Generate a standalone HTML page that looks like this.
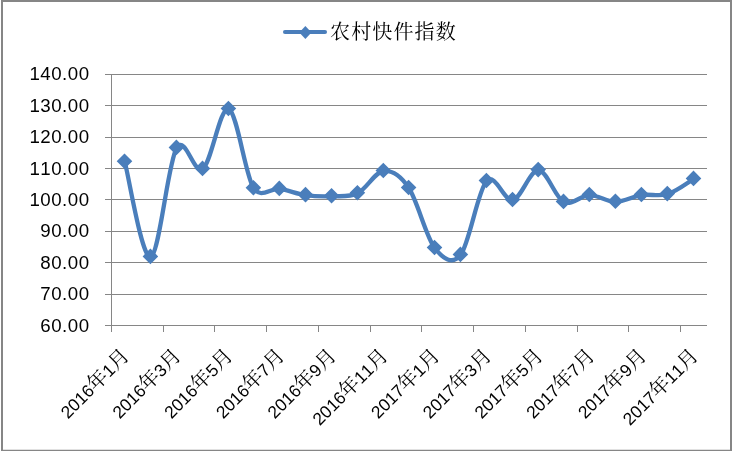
<!DOCTYPE html>
<html lang="zh-CN"><head><meta charset="utf-8"><title>农村快件指数</title>
<style>html,body{margin:0;padding:0;background:#fff}svg{display:block}.y{font-family:"Liberation Sans",sans-serif;font-size:18.7px;fill:#000;text-anchor:end;letter-spacing:0.5px;font-kerning:none}.x{font-family:"Liberation Sans","Noto Serif CJK SC",serif;font-size:17.4px;fill:#000;text-anchor:end;font-kerning:none}.x .c{font-family:"Noto Serif CJK SC",serif;font-size:20px;font-weight:400}.lg{font-family:"Liberation Serif","Noto Serif CJK SC",serif;font-size:20px;font-weight:400;fill:#000;letter-spacing:1.14px}</style></head><body>
<svg width="732" height="451" viewBox="0 0 732 451">
<rect x="0" y="0" width="732" height="451" fill="#fff"/>
<g fill="#868686"><rect x="1" y="0" width="731" height="2"/><rect x="1" y="0" width="2" height="451"/><rect x="730" y="0" width="2" height="451"/><rect x="1" y="449.75" width="731" height="1.25"/></g>
<g fill="#868686"><rect x="105" y="74" width="602" height="1"/><rect x="105" y="105" width="602" height="1"/><rect x="105" y="137" width="602" height="1"/><rect x="105" y="168" width="602" height="1"/><rect x="105" y="199" width="602" height="1"/><rect x="105" y="231" width="602" height="1"/><rect x="105" y="262" width="602" height="1"/><rect x="105" y="294" width="602" height="1"/><rect x="105" y="325" width="602" height="1"/><rect x="111" y="74" width="1" height="252"/><rect x="111" y="325" width="1" height="7"/><rect x="163" y="325" width="1" height="7"/><rect x="214" y="325" width="1" height="7"/><rect x="266" y="325" width="1" height="7"/><rect x="318" y="325" width="1" height="7"/><rect x="370" y="325" width="1" height="7"/><rect x="421" y="325" width="1" height="7"/><rect x="473" y="325" width="1" height="7"/><rect x="525" y="325" width="1" height="7"/><rect x="577" y="325" width="1" height="7"/><rect x="628" y="325" width="1" height="7"/><rect x="680" y="325" width="1" height="7"/></g>
<text class="y" x="89.6" y="80">140.00</text>
<text class="y" x="89.6" y="112">130.00</text>
<text class="y" x="89.6" y="143">120.00</text>
<text class="y" x="89.6" y="175">110.00</text>
<text class="y" x="89.6" y="206">100.00</text>
<text class="y" x="89.6" y="237">90.00</text>
<text class="y" x="89.6" y="269">80.00</text>
<text class="y" x="89.6" y="300">70.00</text>
<text class="y" x="89.6" y="331.6">60.00</text>
<text class="x" transform="translate(130.43 356.90) rotate(-45)">2016<tspan class="c">年</tspan>1<tspan class="c">月</tspan></text>
<text class="x" transform="translate(182.16 356.90) rotate(-45)">2016<tspan class="c">年</tspan>3<tspan class="c">月</tspan></text>
<text class="x" transform="translate(233.88 356.90) rotate(-45)">2016<tspan class="c">年</tspan>5<tspan class="c">月</tspan></text>
<text class="x" transform="translate(285.61 356.90) rotate(-45)">2016<tspan class="c">年</tspan>7<tspan class="c">月</tspan></text>
<text class="x" transform="translate(337.34 356.90) rotate(-45)">2016<tspan class="c">年</tspan>9<tspan class="c">月</tspan></text>
<text class="x" transform="translate(389.06 356.90) rotate(-45)">2016<tspan class="c">年</tspan>11<tspan class="c">月</tspan></text>
<text class="x" transform="translate(440.79 356.90) rotate(-45)">2017<tspan class="c">年</tspan>1<tspan class="c">月</tspan></text>
<text class="x" transform="translate(492.52 356.90) rotate(-45)">2017<tspan class="c">年</tspan>3<tspan class="c">月</tspan></text>
<text class="x" transform="translate(544.25 356.90) rotate(-45)">2017<tspan class="c">年</tspan>5<tspan class="c">月</tspan></text>
<text class="x" transform="translate(595.97 356.90) rotate(-45)">2017<tspan class="c">年</tspan>7<tspan class="c">月</tspan></text>
<text class="x" transform="translate(647.70 356.90) rotate(-45)">2017<tspan class="c">年</tspan>9<tspan class="c">月</tspan></text>
<text class="x" transform="translate(699.43 356.90) rotate(-45)">2017<tspan class="c">年</tspan>11<tspan class="c">月</tspan></text>
<path transform="translate(0.25 0.55)" d="M124.50 161.20 C128.82 177.07 141.75 258.70 150.40 256.40 C159.05 254.10 167.72 162.07 176.40 147.40 C184.93 132.99 193.83 174.88 202.50 168.40 C211.17 161.92 219.92 105.28 228.40 108.50 C236.88 111.72 244.92 174.38 253.40 187.70 C260.36 198.63 270.62 187.24 279.30 188.40 C287.98 189.56 296.79 193.42 305.50 194.64 C314.21 195.86 322.90 196.02 331.55 195.70 C340.20 195.38 348.77 196.90 357.40 192.70 C366.02 188.50 374.77 171.37 383.30 170.50 C391.83 169.63 400.16 174.81 408.60 187.50 C417.13 200.33 425.87 236.35 434.50 247.50 C442.70 258.10 452.19 264.99 460.40 254.40 C469.05 243.23 477.72 189.65 486.40 180.50 C495.08 171.35 503.87 201.32 512.50 199.50 C521.13 197.68 529.70 169.28 538.20 169.60 C546.70 169.92 554.98 197.25 563.50 201.40 C572.02 205.55 580.65 194.52 589.30 194.50 C597.95 194.48 606.72 201.30 615.40 201.30 C624.08 201.30 632.75 195.78 641.40 194.50 C650.05 193.22 658.62 196.28 667.30 193.60 C675.98 190.92 689.13 180.93 693.50 178.40" fill="none" stroke="#4a7ebb" stroke-width="4.3" stroke-linecap="round" stroke-linejoin="round"/>
<path d="M116.70 161.20 l7.80 -7.80 l7.80 7.80 l-7.80 7.80 zM142.60 256.40 l7.80 -7.80 l7.80 7.80 l-7.80 7.80 zM168.60 147.40 l7.80 -7.80 l7.80 7.80 l-7.80 7.80 zM194.70 168.40 l7.80 -7.80 l7.80 7.80 l-7.80 7.80 zM220.60 108.50 l7.80 -7.80 l7.80 7.80 l-7.80 7.80 zM245.60 187.70 l7.80 -7.80 l7.80 7.80 l-7.80 7.80 zM271.50 188.40 l7.80 -7.80 l7.80 7.80 l-7.80 7.80 zM297.70 194.64 l7.80 -7.80 l7.80 7.80 l-7.80 7.80 zM323.75 195.70 l7.80 -7.80 l7.80 7.80 l-7.80 7.80 zM349.60 192.70 l7.80 -7.80 l7.80 7.80 l-7.80 7.80 zM375.50 170.50 l7.80 -7.80 l7.80 7.80 l-7.80 7.80 zM400.80 187.50 l7.80 -7.80 l7.80 7.80 l-7.80 7.80 zM426.70 247.50 l7.80 -7.80 l7.80 7.80 l-7.80 7.80 zM452.60 254.40 l7.80 -7.80 l7.80 7.80 l-7.80 7.80 zM478.60 180.50 l7.80 -7.80 l7.80 7.80 l-7.80 7.80 zM504.70 199.50 l7.80 -7.80 l7.80 7.80 l-7.80 7.80 zM530.40 169.60 l7.80 -7.80 l7.80 7.80 l-7.80 7.80 zM555.70 201.40 l7.80 -7.80 l7.80 7.80 l-7.80 7.80 zM581.50 194.50 l7.80 -7.80 l7.80 7.80 l-7.80 7.80 zM607.60 201.30 l7.80 -7.80 l7.80 7.80 l-7.80 7.80 zM633.60 194.50 l7.80 -7.80 l7.80 7.80 l-7.80 7.80 zM659.50 193.60 l7.80 -7.80 l7.80 7.80 l-7.80 7.80 zM685.70 178.40 l7.80 -7.80 l7.80 7.80 l-7.80 7.80 z" fill="#4a7ebb"/>
<path d="M285 32 H325" stroke="#4a7ebb" stroke-width="4.1" stroke-linecap="round" fill="none"/>
<path d="M299.3 32.5 L305.4 26 L311.5 32.5 L305.4 39 Z" fill="#4a7ebb"/>
<text class="lg" x="330" y="39">农村快件指数</text>
</svg></body></html>
